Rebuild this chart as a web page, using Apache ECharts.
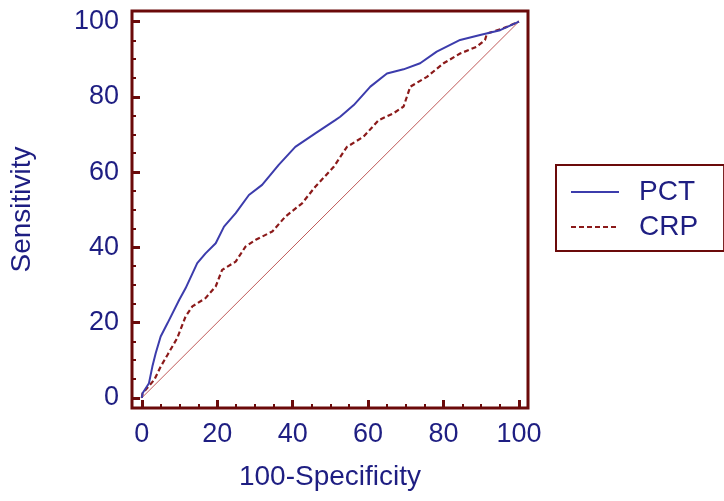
<!DOCTYPE html>
<html>
<head>
<meta charset="utf-8">
<script src="https://cdn.jsdelivr.net/npm/echarts@6/dist/echarts.min.js"></script>
<style>html,body{margin:0;padding:0;background:#fff;}#c{width:724px;height:501px;}</style>
</head>
<body>
<div id="c"></div>
<script>
// ---- data ----
var seriesNames = ['PCT', 'CRP'];
var pctX = [0, 0.2, 1.9, 2.8, 3.7, 5.0, 6.8, 9.9, 11.6, 14.7, 16.9, 19.6, 21.8, 24.9, 28.4, 31.9, 36.3, 40.7, 46.0, 51.3, 52.6, 56.2, 60.6, 65.0, 69.4, 73.8, 78.2, 84.4, 89.7, 95.0, 99.4, 100];
var pctY = [0, 1.2, 3.9, 8.3, 11.9, 16.3, 19.8, 26.0, 29.1, 35.8, 38.4, 41.1, 45.5, 49.1, 53.9, 56.6, 61.9, 66.7, 70.3, 73.8, 74.7, 77.8, 82.7, 86.2, 87.3, 88.9, 92.0, 95.1, 96.4, 97.7, 99.7, 100];
var crpX = [0, 0.2, 3.3, 5.0, 6.8, 9.4, 11.6, 13.4, 16.9, 19.6, 21.3, 24.9, 27.5, 30.2, 34.6, 38.1, 42.5, 46.0, 50.9, 54.4, 58.8, 62.8, 66.7, 69.4, 71.2, 75.6, 80.0, 84.4, 88.8, 91.0, 91.5, 95.8, 99.4, 100];
var crpY = [0, 1.2, 4.8, 8.3, 11.4, 15.9, 21.6, 24.3, 26.5, 29.6, 34.0, 36.2, 40.2, 42.0, 44.2, 48.2, 51.7, 56.1, 61.4, 66.7, 69.4, 73.8, 75.6, 77.4, 82.7, 85.3, 88.9, 91.5, 93.3, 95.1, 96.8, 98.2, 99.7, 100];
var diagX = [0, 100];
var diagY = [0, 100];
var majorTicks = [0, 20, 40, 60, 80, 100];
var minorTicks = [0, 5, 10, 15, 20, 25, 30, 35, 40, 45, 50, 55, 60, 65, 70, 75, 80, 85, 90, 95, 100];
var xTitle = '100-Specificity';
var yTitle = 'Sensitivity';

function pairs(xs, ys) { return xs.map(function (v, i) { return [v, ys[i]]; }); }

var FRAME = '#6b0a0a';
var NAVY = '#1e1e82';
var FONT = 'Liberation Sans, Arial, sans-serif';

function majorAxis(extra) {
  var a = {
    type: 'value', gridIndex: 0,
    axisLine: { show: false, onZero: false },
    splitLine: { show: false },
    axisTick: { show: true, inside: true, length: 8, customValues: majorTicks, lineStyle: { color: FRAME, width: 3 } },
    axisLabel: { show: true, customValues: majorTicks, color: NAVY, fontSize: 27, fontFamily: FONT, margin: 13 }
  };
  return Object.assign(a, extra);
}
function minorAxis(extra) {
  var a = {
    type: 'value', gridIndex: 0,
    axisLine: { show: false, onZero: false },
    splitLine: { show: false },
    axisTick: { show: true, inside: true, length: 4, customValues: minorTicks, lineStyle: { color: FRAME, width: 2 } },
    axisLabel: { show: false }
  };
  return Object.assign(a, extra);
}

var chart = echarts.init(document.getElementById('c'), null, { renderer: 'canvas' });
chart.setOption({
  animation: false,
  backgroundColor: '#fff',
  grid: [{ left: 131, top: 11, width: 397, height: 397, show: true, borderColor: FRAME, borderWidth: 3, backgroundColor: 'transparent' }],
  xAxis: [
    majorAxis({ position: 'bottom', min: -2.6, max: 102.4,
      name: xTitle, nameLocation: 'middle', nameGap: 55,
      nameTextStyle: { color: NAVY, fontSize: 28, fontFamily: FONT } }),
    minorAxis({ position: 'bottom', min: -2.6, max: 102.4 })
  ],
  yAxis: [
    majorAxis({ position: 'left', min: -2.7, max: 102.8,
      name: yTitle, nameLocation: 'middle', nameGap: 96,
      nameTextStyle: { color: NAVY, fontSize: 28, fontFamily: FONT } }),
    minorAxis({ position: 'left', min: -2.7, max: 102.8 })
  ],
  legend: {
    data: seriesNames,
    orient: 'vertical',
    left: 556, top: 165,
    padding: [12, 26, 9, 14],
    itemGap: 5,
    itemWidth: 48, itemHeight: 14,
    itemStyle: { opacity: 0 },
    borderColor: FRAME, borderWidth: 2,
    textStyle: { color: NAVY, fontSize: 28, fontFamily: FONT, lineHeight: 30, padding: [0, 0, 0, 15] }
  },
  series: [
    { name: 'diag', type: 'line', xAxisIndex: 0, yAxisIndex: 0, data: pairs(diagX, diagY), symbol: 'none',
      lineStyle: { color: '#b03030', width: 0.8 }, silent: true, z: 1 },
    { name: 'PCT', type: 'line', xAxisIndex: 0, yAxisIndex: 0, data: pairs(pctX, pctY), symbol: 'none',
      itemStyle: { color: '#3c3cac' }, lineStyle: { color: '#3c3cac', width: 2 }, z: 3 },
    { name: 'CRP', type: 'line', xAxisIndex: 0, yAxisIndex: 0, data: pairs(crpX, crpY), symbol: 'none',
      itemStyle: { color: '#8b1a1a' }, lineStyle: { color: '#8b1a1a', width: 2.2, type: [5, 3] }, z: 2 }
  ]
});
</script>
</body>
</html>
